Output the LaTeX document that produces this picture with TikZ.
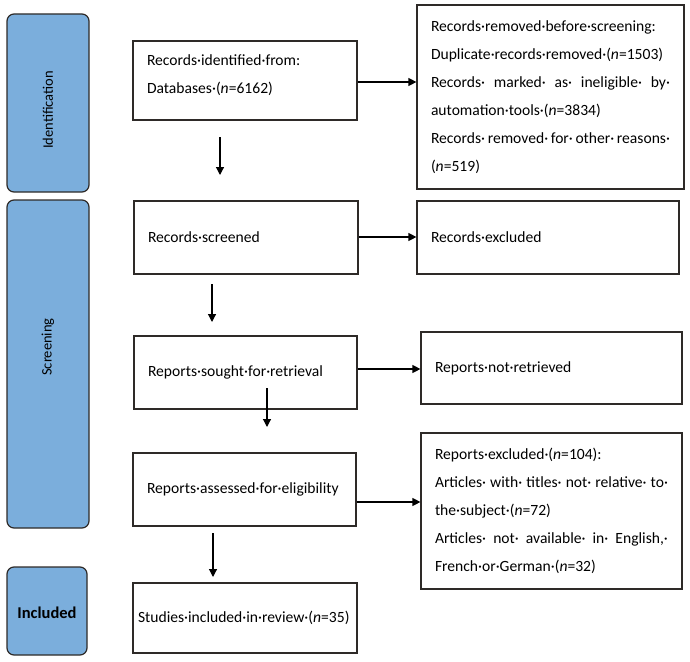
\documentclass[tikz,border=0pt]{standalone}
\usepackage{fontspec}
\setmainfont{Carlito}
\usetikzlibrary{arrows.meta}
\definecolor{side}{HTML}{7BAEDC}
\definecolor{edge}{HTML}{2E2A28}
\begin{document}
\begin{tikzpicture}[x=1pt,y=-1pt,
  box/.style={draw=edge, line width=1.2pt, rectangle, inner xsep=14pt, inner ysep=0pt,
    align=left, font=\fontsize{15.6}{28}\selectfont},
  sidebar/.style={draw=edge, line width=1.2pt, fill=side, rounded corners=7pt, inner sep=0pt},
  sidelabel/.style={font=\fontsize{14.5}{16}\selectfont, text=black},
  arr/.style={draw=black, line width=1.2pt, -{Triangle[length=8pt,width=8pt]}}
]
\useasboundingbox (0,0) rectangle (690,661);

% phase sidebars
\node[sidebar, minimum width=82, minimum height=178] (sid) at (48,103) {};
\node[sidelabel, rotate=90] (sidt) at (48,110) {Identification};
\node[sidebar, minimum width=82, minimum height=328] (sscr) at (48,364) {};
\node[sidelabel, rotate=90] (sscrt) at (48,347) {Screening};
\node[sidebar, minimum width=80, minimum height=88] (sinc) at (47,611) {};
\node[font=\bfseries\fontsize{16.5}{18}\selectfont, text=black] (sinct) at (47,613) {Included};

% main column
\node[box, text width=196, minimum height=79] (b1) at (245,80.5)
  {Records·identified·from:\\Databases·(\textit{n}=6162)\\[-16pt]\mbox{}};
\node[box, text width=196, minimum height=73] (b2) at (246,237.5)
  {Records·screened};
\node[box, text width=195, minimum height=73] (b3) at (245.5,372.5)
  {Reports·sought·for·retrieval};
\node[box, text width=195, minimum height=73] (b4) at (244.5,489.5)
  {Reports·assessed·for·eligibility};
\node[box, inner xsep=5pt, text width=214, minimum height=70] (b5) at (245,618)
  {Studies·included·in·review·(\textit{n}=35)};

% right column
\node[box, text width=239, minimum height=184] (r1) at (550.5,97)
  {Records·removed·before·screening:\\
   Duplicate·records·removed·(\textit{n}=1503)\\
   \makebox[239pt]{Records·\hfill marked·\hfill as·\hfill ineligible·\hfill by·}\\
   automation·tools·(\textit{n}=3834)\\
   \makebox[239pt]{Records·\hfill removed·\hfill for·\hfill other·\hfill reasons·}\\
   (\textit{n}=519)};
\node[box, text width=234, minimum height=73] (r2) at (548,237.5)
  {Records·excluded};
\node[box, text width=233, minimum height=72] (r3) at (551.5,368)
  {Reports·not·retrieved};
\node[box, text width=233, minimum height=156] (r4) at (551.5,511)
  {Reports·excluded·(\textit{n}=104):\\
   \makebox[233pt]{Articles·\hfill with·\hfill titles·\hfill not·\hfill relative·\hfill to·}\\
   the·subject·(\textit{n}=72)\\
   \makebox[233pt]{Articles·\hfill not·\hfill available·\hfill in·\hfill English,·}\\
   French·or·German·(\textit{n}=32)};

% free arrow ends
\coordinate (d1s) at (220,137); \coordinate (d1e) at (220,175);
\coordinate (d2s) at (212,284); \coordinate (d2e) at (212,322);
\coordinate (d3s) at (267,388); \coordinate (d3e) at (267,427);
\coordinate (d4s) at (213,533); \coordinate (d4e) at (213,577);

% connectors
\draw[arr] (b1.east |- 0,82) -- (r1.west |- 0,82);
\draw[arr] (b2.east |- 0,237) -- (r2.west |- 0,237);
\draw[arr] (b3.east |- 0,369) -- (r3.west |- 0,369);
\draw[arr] (b4.east |- 0,502) -- (r4.west |- 0,502);
\draw[arr] (d1s) -- (d1e);
\draw[arr] (d2s) -- (d2e);
\draw[arr] (d3s) -- (d3e);
\draw[arr] (d4s) -- (d4e);
\end{tikzpicture}
\end{document}
